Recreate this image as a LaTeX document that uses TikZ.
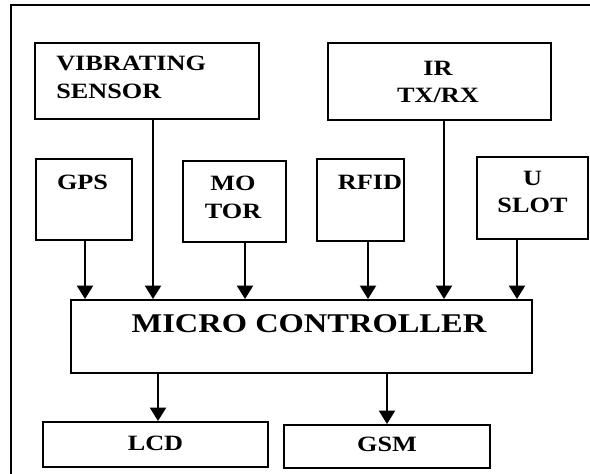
\documentclass[tikz,border=0pt]{standalone}
\usepackage{fontspec}
\setmainfont[FakeStretch=1.2]{Liberation Serif}
\usepackage{tikz}
\usetikzlibrary{arrows.meta,calc}

\newcommand\boxfont{\fontsize{16.4pt}{20.5pt}\selectfont\bfseries}
\newcommand\mainfont{\fontsize{20.3pt}{24pt}\selectfont\bfseries}

\begin{document}
\begin{tikzpicture}[x=0.75pt,y=-0.75pt,>=Triangle]
  \tikzstyle{blk}=[draw=black,line width=1.5pt,inner sep=0pt]
  \tikzstyle{blktext}=[font=\boxfont,inner sep=0pt,align=center,anchor=north]
  \tikzstyle{arr}=[line width=1.5pt,-{Triangle[width=12pt,length=10pt]}]
  \useasboundingbox (0,0) rectangle (590,474);
  % outer frame
  \draw[line width=2.2pt] (11,474) -- (11,5) -- (590,5);
  % input blocks
  \node[blk,minimum width=168pt,minimum height=57pt,
    label={[blktext,align=left,anchor=north west,xshift=16.5pt,yshift=-10.5pt]north west:VIBRATING\\SENSOR}] (vib) at (147,81) {};
  \node[blk,minimum width=167.25pt,minimum height=57.75pt,
    label={[blktext,xshift=-1.1pt,yshift=-14.25pt]north:IR\\TX/RX}] (ir) at (439.5,81.5) {};
  \node[blk,minimum width=72pt,minimum height=60.75pt,
    label={[blktext,xshift=-1.1pt,yshift=-12.75pt]north:GPS}] (gps) at (84,199.5) {};
  \node[blk,minimum width=77.25pt,minimum height=60.75pt,
    label={[blktext,xshift=-1.1pt,yshift=-12pt]north:MO\\TOR}] (motor) at (234.5,201.5) {};
  \node[blk,minimum width=65.25pt,minimum height=61.5pt,
    label={[blktext,xshift=7.1pt,yshift=-12.75pt]north:RFID}] (rfid) at (360.5,200) {};
  \node[blk,minimum width=83.25pt,minimum height=61.5pt,
    label={[blktext,yshift=-11.25pt]north:U\\SLOT}] (uslot) at (532.5,198) {};
  % controller
  \node[blk,minimum width=345.75pt,minimum height=54.75pt,
    label={[blktext,font=\mainfont,xshift=5.6pt,yshift=-11.25pt]north:MICRO CONTROLLER}] (mc) at (301.5,336.5) {};
  % output blocks
  \node[blk,minimum width=168.75pt,minimum height=33.75pt,
    label={[blktext,yshift=-11.25pt]north:LCD}] (lcd) at (155.5,444.5) {};
  \node[blk,minimum width=154.5pt,minimum height=32.25pt,
    label={[blktext,yshift=-9.75pt]north:GSM}] (gsm) at (387,446.5) {};
  % connectors
  \foreach \src/\dx in {gps/1,vib/6,motor/10.5,rfid/7.5,ir/4.5,uslot/-15.5}{
    \coordinate (s) at ($(\src.south)+(\dx,0)$);
    \draw[arr] (s) -- (s |- mc.north);
  }
  \coordinate (lo) at ($(mc.south)+(-143.5,0)$);
  \draw[arr] (lo) -- (lo |- lcd.north);
  \draw[arr] (mc.south -| gsm.north) -- (gsm.north);
\end{tikzpicture}
\end{document}
